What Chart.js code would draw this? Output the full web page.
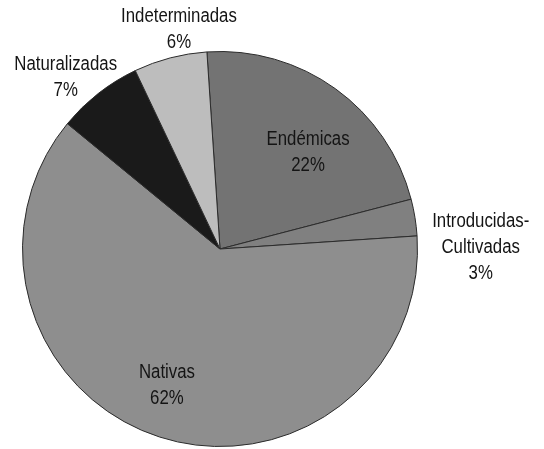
<!DOCTYPE html>
<html>
<head>
<meta charset="utf-8">
<script src="https://cdn.jsdelivr.net/npm/chart.js@4/dist/chart.umd.min.js"></script>
<style>
  html, body { margin: 0; padding: 0; background: #fff; }
  #wrap { width: 544px; height: 449px; position: relative; }
</style>
</head>
<body>
<div id="wrap"><canvas id="pie"></canvas></div>
<script>
// datos del gráfico
const categorias = ['Endémicas', 'Introducidas-Cultivadas', 'Nativas', 'Naturalizadas', 'Indeterminadas'];
const porcentajes = [22, 3, 62, 7, 6];
// texto de cada etiqueta (líneas)
const etiquetas = [
    ['Endémicas', '22%'],
    ['Introducidas-', 'Cultivadas', '3%'],
    ['Nativas', '62%'],
    ['Naturalizadas', '7%'],
    ['Indeterminadas', '6%']
];

const colores = ['#737373', '#808080', '#8e8e8e', '#1a1a1a', '#bdbdbd'];
// posición de etiqueta: fracción del radio, desvío de ángulo (grados)
const ubicacion = [[0.66, 6.7], [1.32, 8.8], [0.74, 3.5], [1.17, -3.9], [1.13, 4]];

const etiquetasPlugin = {
    id: 'etiquetas',
    afterDraw: (chart) => {
        const ctx = chart.ctx;
        const meta = chart.getDatasetMeta(0);
        meta.data.forEach((arc, i) => {
            const p = arc.getProps(['x', 'y', 'startAngle', 'endAngle', 'outerRadius'], true);
            const ang = (p.startAngle + p.endAngle) / 2 + ubicacion[i][1] * Math.PI / 180;
            const r = p.outerRadius * ubicacion[i][0];
            const cx = p.x + Math.cos(ang) * r;
            const cy = p.y + Math.sin(ang) * r;
            const lineas = etiquetas[i];
            const alto = 26;
            ctx.save();
            ctx.fillStyle = '#141414';
            ctx.font = '20px "Liberation Sans", Arial, sans-serif';
            ctx.textAlign = 'center';
            ctx.textBaseline = 'middle';
            lineas.forEach((t, k) => {
                const y = cy + (k - (lineas.length - 1) / 2) * alto;
                ctx.save();
                ctx.translate(cx, y);
                ctx.scale(0.84, 1);
                ctx.fillText(t, 0, 0);
                ctx.restore();
            });
            ctx.restore();
        });
    }
};

new Chart(document.getElementById('pie'), {
    type: 'pie',
    data: {
        labels: categorias,
        datasets: [{
            data: porcentajes,
            backgroundColor: colores,
            borderColor: '#2b2b2b',
            borderWidth: 1
        }]
    },
    options: {
        responsive: true,
        maintainAspectRatio: false,
        animation: false,
        rotation: -3.8,
        layout: {
            padding: { top: 51, left: 22, right: 126, bottom: 2 }
        },
        plugins: {
            legend: { display: false },
            tooltip: { enabled: false }
        }
    },
    plugins: [etiquetasPlugin]
});
</script>
</body>
</html>
